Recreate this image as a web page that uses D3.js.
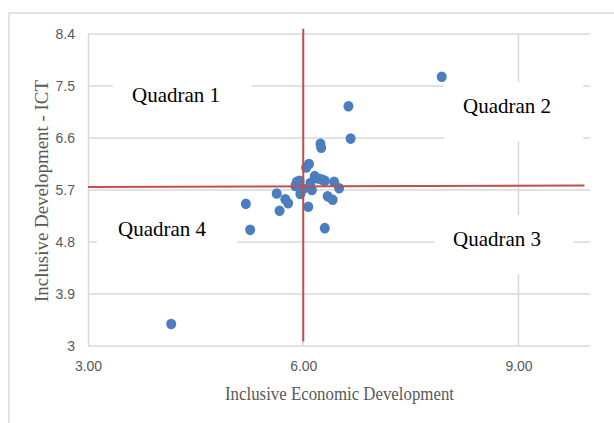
<!DOCTYPE html>
<html><head><meta charset="utf-8">
<script src="https://cdn.jsdelivr.net/npm/d3@7"></script>
<style>body{margin:0;background:#fff;} svg{display:block;}</style>
</head><body>
<svg id="c" width="614" height="423"></svg>
<script>
const xTicks = [3, 6, 9];
const yTicks = [3, 3.9, 4.8, 5.7, 6.6, 7.5, 8.4];
const xVals = [4.16, 7.93, 6.63, 6.66, 6.24, 6.25, 6.08, 6.04, 5.95, 5.89, 5.91, 5.96, 6.07, 6.12, 6.10, 6.16, 6.21, 6.30, 6.43, 6.50, 6.34, 6.41, 5.63, 5.75, 5.79, 5.67, 5.20, 5.26, 6.30, 6.00, 6.26];
const yVals = [3.38, 7.66, 7.15, 6.59, 6.50, 6.43, 6.15, 6.09, 5.86, 5.77, 5.84, 5.63, 5.41, 5.70, 5.82, 5.94, 5.90, 5.86, 5.84, 5.73, 5.59, 5.53, 5.64, 5.54, 5.47, 5.34, 5.46, 5.01, 5.04, 5.72, 5.88];
const quadLabels = ["Quadran 1", "Quadran 2", "Quadran 3", "Quadran 4"];
const vLine = {x: 6.0, y0: 3.08, y1: 8.49};
const hLine = {x0: 3.0, x1: 9.92, y0: 5.75, y1: 5.78};

const svg = d3.select("#c");
const x = d3.scaleLinear().domain([3, 10]).range([88, 590.25]);
const y = d3.scaleLinear().domain([3, 8.4]).range([346, 34]);
const grid = "#d9d9d9", txt = "#595959";

// outer border
svg.append("rect").attr("x", 9).attr("y", 13).attr("width", 620).attr("height", 420)
  .attr("fill", "none").attr("stroke", grid).attr("stroke-width", 1.5);

// horizontal gridlines
svg.append("g").selectAll("line").data(yTicks.slice(1)).join("line")
  .attr("x1", x(3)).attr("x2", x(10)).attr("y1", d => y(d)).attr("y2", d => y(d))
  .attr("stroke", grid).attr("stroke-width", 1.5);
// vertical gridlines
svg.append("g").selectAll("line").data(xTicks.slice(1)).join("line")
  .attr("x1", d => x(d)).attr("x2", d => x(d)).attr("y1", y(3)).attr("y2", y(8.4))
  .attr("stroke", grid).attr("stroke-width", 1.5);

// axes
const xAxis = svg.append("g").attr("transform", `translate(0,${y(3)})`)
  .call(d3.axisBottom(x).tickValues(xTicks).tickSize(0).tickPadding(15).tickFormat(d3.format(".2f")));
const yAxis = svg.append("g").attr("transform", `translate(${x(3)},0)`)
  .call(d3.axisLeft(y).tickValues(yTicks).tickSize(0).tickPadding(13).tickFormat(d => String(d)));
[xAxis, yAxis].forEach(a => {
  a.select(".domain").attr("stroke", grid).attr("stroke-width", 1.5);
  a.selectAll("text").attr("fill", txt).attr("font-family", "Liberation Sans, Arial, sans-serif").attr("font-size", 14);
});
xAxis.select(".domain").attr("d", `M${x(3)},0H${x(10)}`);

// quadrant label boxes (white background hiding gridlines)
const boxes = [[113, 70, 139, 48], [444, 82, 139, 59], [434, 215, 140, 59], [97, 210, 140, 50]];
const labelPos = [[132, 102], [463, 113], [453, 246], [118, 236]];
svg.append("g").selectAll("rect").data(boxes).join("rect")
  .attr("x", d => d[0]).attr("y", d => d[1]).attr("width", d => d[2]).attr("height", d => d[3]).attr("fill", "#fff");
svg.append("g").selectAll("text").data(quadLabels).join("text")
  .attr("x", (d, i) => labelPos[i][0]).attr("y", (d, i) => labelPos[i][1])
  .attr("font-family", "Liberation Serif, Times New Roman, serif").attr("font-size", 21).attr("fill", "#000")
  .text(d => d);

// points
const pts = xVals.map((v, i) => ({x: v, y: yVals[i]}));
svg.append("g").selectAll("ellipse").data(pts).join("ellipse")
  .attr("cx", d => x(d.x)).attr("cy", d => y(d.y)).attr("rx", 5).attr("ry", 5.3)
  .attr("fill", "#4a7ebf");

// red reference lines
const red = "#c0504d";
svg.append("line").attr("x1", x(vLine.x)).attr("x2", x(vLine.x)).attr("y1", y(vLine.y0)).attr("y2", y(vLine.y1))
  .attr("stroke", red).attr("stroke-width", 2);
svg.append("line").attr("x1", x(hLine.x0)).attr("x2", x(hLine.x1)).attr("y1", y(hLine.y0)).attr("y2", y(hLine.y1))
  .attr("stroke", red).attr("stroke-width", 2);

// axis titles
svg.append("text").attr("x", 339.5).attr("y", 400).attr("text-anchor", "middle")
  .attr("font-family", "Liberation Serif, Times New Roman, serif").attr("font-size", 18).attr("fill", txt)
  .attr("textLength", 229).attr("lengthAdjust", "spacingAndGlyphs")
  .text("Inclusive Economic Development");
svg.append("text").attr("transform", "translate(48,191) rotate(-90)").attr("text-anchor", "middle")
  .attr("font-family", "Liberation Serif, Times New Roman, serif").attr("font-size", 18).attr("fill", txt)
  .attr("textLength", 222).attr("lengthAdjust", "spacingAndGlyphs")
  .text("Inclusive Development - ICT");
</script>
</body></html>
